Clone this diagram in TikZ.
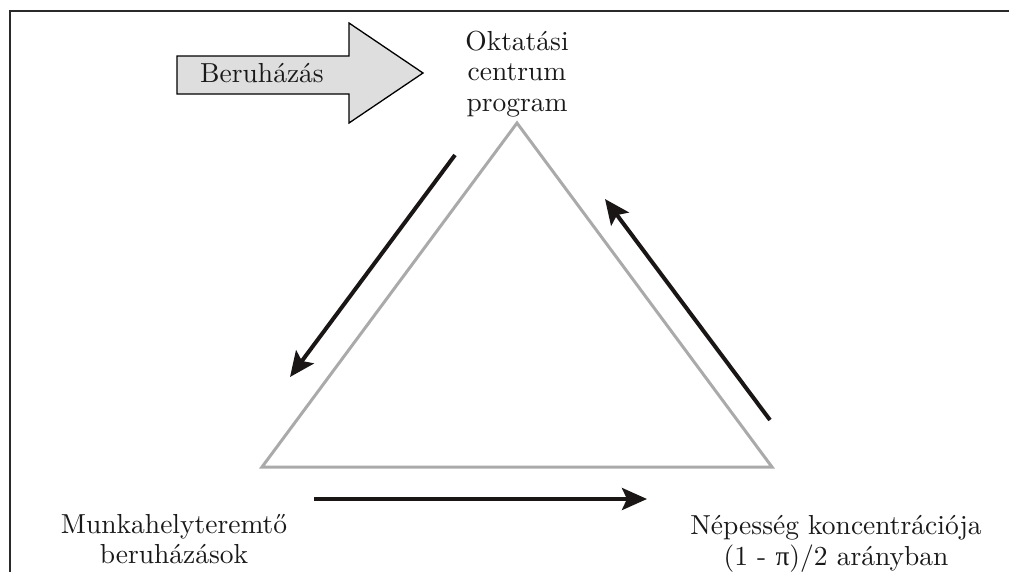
\documentclass[tikz,border=0pt]{standalone}
\usepackage{fontspec}
\setmainfont{lmroman10-regular.otf}
\newfontfamily\grk{Liberation Serif}
\usetikzlibrary{arrows.meta}
\definecolor{arrowc}{HTML}{1A1616}
\definecolor{trigray}{HTML}{AAAAAA}
\definecolor{fillgray}{HTML}{DEDEDE}
\definecolor{framec}{HTML}{2A2A2A}
\begin{document}
\begin{tikzpicture}[x=1pt,y=-1pt,
  lbl/.style={align=center, inner sep=0pt, font=\fontsize{27.5}{30.5}\selectfont, text=black!90},
  flow/.style={line width=4pt, draw=arrowc, -{Stealth[length=25pt,width=22pt,inset=5pt]}},
  tri/.style={draw=trigray, line width=3pt, line join=miter},
  bigarrow/.style={draw=black, fill=fillgray, line width=1.3pt, line join=miter},
  frameline/.style={draw=framec, line width=2pt}
  ]
\useasboundingbox (0,0) rectangle (1009,571);
% frame
\coordinate (fbl) at (10,575);
\coordinate (ftl) at (10,11);
\coordinate (ftr) at (1012,11);
\draw[frameline] (fbl) -- (ftl) -- (ftr);
% triangle
\coordinate (A) at (517,123);
\coordinate (B) at (262,467);
\coordinate (C) at (772,467);
\draw[tri] (A) -- (B) -- (C) -- cycle;
% big input arrow
\draw[bigarrow] (177,56) -- (349,56) -- (349,23) -- (423,73) -- (349,123) -- (349,94) -- (177,94) -- cycle;
\node[lbl, anchor=base] (beru) at (262,82) {Beruházás};
% labels
\node[lbl] (okt) at (517,74) {Oktatási\\centrum\\program};
\node[lbl] (munka) at (174,539) {Munkahelyteremtő\\beruházások};
\node[lbl] (nep) at (836,544) {Népesség koncentrációja\\(1 - {\grk π})/2 arányban};
% flow arrows
\coordinate (l1) at (455,155);
\coordinate (l2) at (290,377);
\coordinate (b1) at (314,499);
\coordinate (b2) at (647,499);
\coordinate (r1) at (770,420);
\coordinate (r2) at (605,199);
\draw[flow] (l1) -- (l2);
\draw[flow] (b1) -- (b2);
\draw[flow] (r1) -- (r2);
\end{tikzpicture}
\end{document}
